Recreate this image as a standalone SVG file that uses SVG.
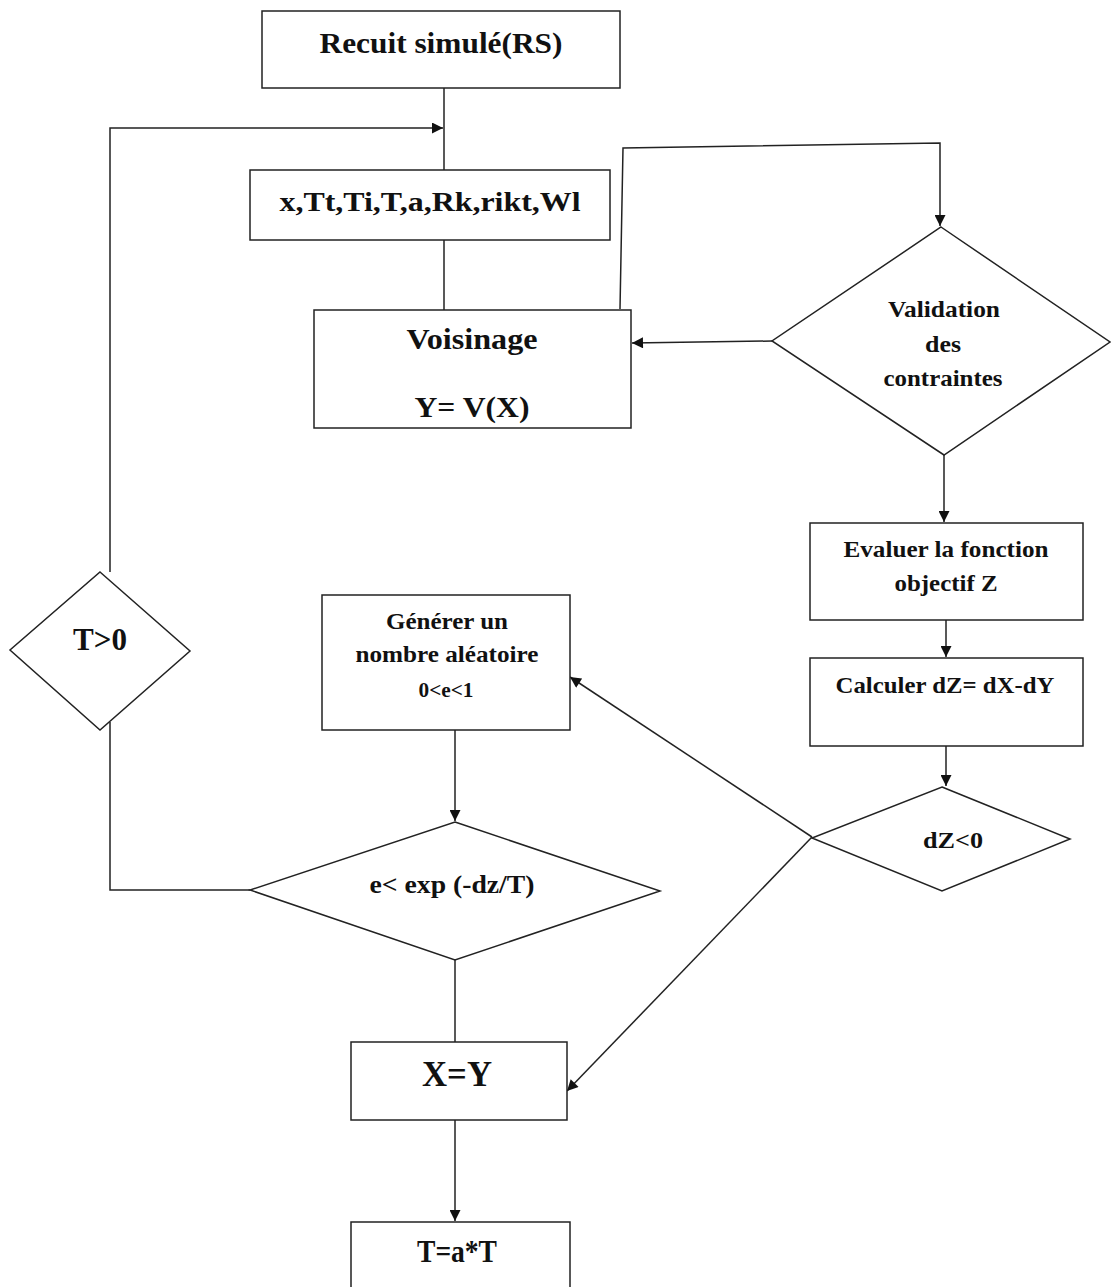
<svg xmlns="http://www.w3.org/2000/svg" width="1111" height="1287" viewBox="0 0 1111 1287">
<style>
.box{fill:#fff;stroke:#222;stroke-width:1.5}
.t{font-family:"Liberation Serif","Times New Roman",serif;font-weight:bold;fill:#111;text-anchor:middle}
.c{fill:none;stroke:#222;stroke-width:1.5}
</style>
<defs>
<marker id="ah" viewBox="0 0 10 10" refX="10" refY="5" markerWidth="12" markerHeight="11" markerUnits="userSpaceOnUse" orient="auto">
<path d="M0,0 L10,5 L0,10 z" fill="#111"/>
</marker>
</defs>
<rect width="1111" height="1287" fill="#fff"/>
<g id="connectors">
<line class="c" x1="444" y1="88" x2="444" y2="170"/>
<polyline class="c" points="110,572 110,128 443,128" marker-end="url(#ah)"/>
<line class="c" x1="444" y1="240" x2="444" y2="310"/>
<polyline class="c" points="620,309 623,148 940,143 940,226" marker-end="url(#ah)"/>
<line class="c" x1="772" y1="341" x2="632" y2="343" marker-end="url(#ah)"/>
<line class="c" x1="944" y1="455" x2="944" y2="522" marker-end="url(#ah)"/>
<line class="c" x1="946" y1="620" x2="946" y2="657" marker-end="url(#ah)"/>
<line class="c" x1="946" y1="746" x2="946" y2="786" marker-end="url(#ah)"/>
<line class="c" x1="812" y1="837" x2="570" y2="677" marker-end="url(#ah)"/>
<line class="c" x1="812" y1="837" x2="567" y2="1091" marker-end="url(#ah)"/>
<line class="c" x1="455" y1="730" x2="455" y2="821" marker-end="url(#ah)"/>
<polyline class="c" points="250,890 110,890 110,722"/>
<line class="c" x1="455" y1="960" x2="455" y2="1042"/>
<line class="c" x1="455" y1="1120" x2="455" y2="1221" marker-end="url(#ah)"/>
</g>
<g id="recuit">
<rect class="box" x="262" y="11" width="358" height="77"/>
<text class="t" x="441" y="53" font-size="29" textLength="243" lengthAdjust="spacingAndGlyphs">Recuit simulé(RS)</text>
</g>
<g id="params">
<rect class="box" x="250" y="170" width="360" height="70"/>
<text class="t" x="430" y="211" font-size="27" textLength="301" lengthAdjust="spacingAndGlyphs">x,Tt,Ti,T,a,Rk,rikt,Wl</text>
</g>
<g id="voisinage">
<rect class="box" x="314" y="310" width="317" height="118"/>
<text class="t" x="472" y="349" font-size="30" textLength="131" lengthAdjust="spacingAndGlyphs">Voisinage</text>
<text class="t" x="472" y="417" font-size="30" textLength="115" lengthAdjust="spacingAndGlyphs">Y= V(X)</text>
</g>
<g id="validation">
<polygon class="box" points="941,227 1110,342 944,455 772,341"/>
<text class="t" x="944" y="317" font-size="23" textLength="112" lengthAdjust="spacingAndGlyphs">Validation</text>
<text class="t" x="943" y="352" font-size="23" textLength="36" lengthAdjust="spacingAndGlyphs">des</text>
<text class="t" x="943" y="386" font-size="23" textLength="119" lengthAdjust="spacingAndGlyphs">contraintes</text>
</g>
<g id="evaluer">
<rect class="box" x="810" y="523" width="273" height="97"/>
<text class="t" x="946" y="557" font-size="23" textLength="205" lengthAdjust="spacingAndGlyphs">Evaluer la fonction</text>
<text class="t" x="946" y="591" font-size="23" textLength="103" lengthAdjust="spacingAndGlyphs">objectif Z</text>
</g>
<g id="calculer">
<rect class="box" x="810" y="658" width="273" height="88"/>
<text class="t" x="945" y="693" font-size="23" textLength="219" lengthAdjust="spacingAndGlyphs">Calculer dZ= dX-dY</text>
</g>
<g id="dz">
<polygon class="box" points="942,787 1070,839 942,891 812,838"/>
<text class="t" x="953" y="848" font-size="24" textLength="60" lengthAdjust="spacingAndGlyphs">dZ&lt;0</text>
</g>
<g id="generer">
<rect class="box" x="322" y="595" width="248" height="135"/>
<text class="t" x="447" y="629" font-size="24" textLength="122" lengthAdjust="spacingAndGlyphs">Générer un</text>
<text class="t" x="447" y="662" font-size="24" textLength="183" lengthAdjust="spacingAndGlyphs">nombre aléatoire</text>
<text class="t" x="446" y="697" font-size="20" textLength="55" lengthAdjust="spacingAndGlyphs">0&lt;e&lt;1</text>
</g>
<g id="exp">
<polygon class="box" points="455,822 660,891 455,960 250,890"/>
<text class="t" x="452" y="893" font-size="25" textLength="165" lengthAdjust="spacingAndGlyphs">e&lt; exp (-dz/T)</text>
</g>
<g id="tpos">
<polygon class="box" points="100,572 190,651 100,730 10,650"/>
<text class="t" x="100" y="650" font-size="31" textLength="54" lengthAdjust="spacingAndGlyphs">T&gt;0</text>
</g>
<g id="xy">
<rect class="box" x="351" y="1042" width="216" height="78"/>
<text class="t" x="457" y="1086" font-size="36" textLength="70" lengthAdjust="spacingAndGlyphs">X=Y</text>
</g>
<g id="tat">
<rect class="box" x="351" y="1222" width="219" height="75"/>
<text class="t" x="457" y="1262" font-size="32" textLength="80" lengthAdjust="spacingAndGlyphs">T=a*T</text>
</g>
</svg>
